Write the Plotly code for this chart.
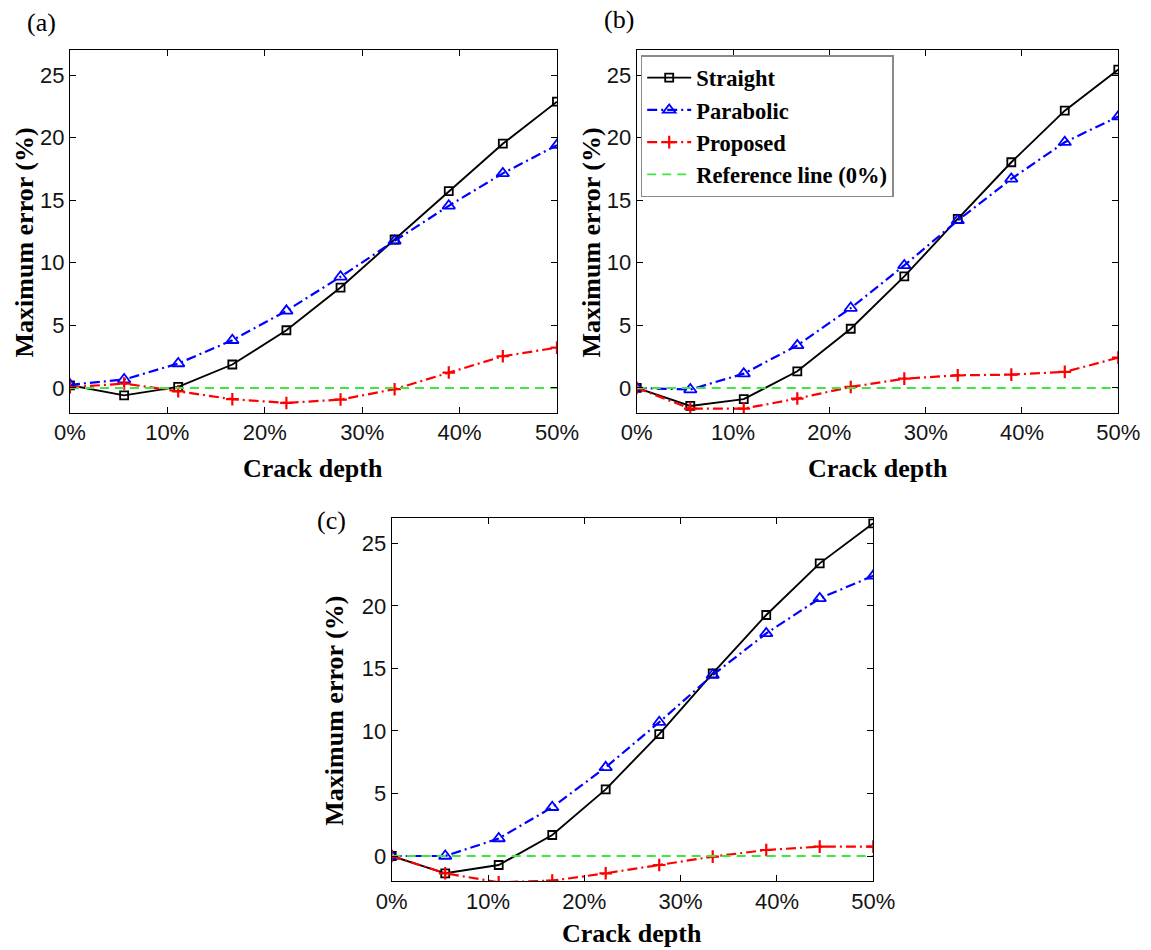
import plotly.graph_objects as go

# Crack depth (% of section height) at which the maximum error was evaluated
depth = [0, 5.56, 11.11, 16.67, 22.22, 27.78, 33.33, 38.89, 44.44, 50.0]
depth_ticks = [0, 10, 20, 30, 40, 50]
error_ticks = [0, 5, 10, 15, 20, 25]

# Case (a)
straight_a = [0.21, -0.59, 0.08, 1.87, 4.61, 8.02, 11.86, 15.72, 19.51, 22.87]
parabolic_a = [0.25, 0.67, 1.95, 3.81, 6.16, 8.88, 11.75, 14.55, 17.14, 19.40]
proposed_a = [0.05, 0.35, -0.27, -0.90, -1.20, -0.93, -0.10, 1.23, 2.53, 3.22]

# Case (b)
straight_b = [0.0, -1.44, -0.90, 1.33, 4.73, 8.91, 13.51, 18.03, 22.15, 25.43]
parabolic_b = [0.0, -0.13, 1.14, 3.40, 6.38, 9.79, 13.38, 16.70, 19.63, 21.68]
proposed_b = [0.0, -1.65, -1.65, -0.85, 0.08, 0.74, 1.01, 1.06, 1.28, 2.42]

# Case (c)
straight_c = [0.0, -1.38, -0.72, 1.68, 5.33, 9.75, 14.60, 19.27, 23.40, 26.60]
parabolic_c = [0.0, 0.0, 1.40, 3.90, 7.09, 10.70, 14.47, 17.80, 20.60, 22.40]
proposed_c = [0.0, -1.38, -2.10, -1.97, -1.38, -0.72, -0.05, 0.48, 0.75, 0.75]

reference_line = [0.0] * len(depth)

panels = [
    ("(a)", straight_a, parabolic_a, proposed_a),
    ("(b)", straight_b, parabolic_b, proposed_b),
    ("(c)", straight_c, parabolic_c, proposed_c),
]

# axis domains in paper units (figure margins are zero)
x_domains = [[0.0608, 0.4839], [0.5532, 0.9716], [0.3403, 0.7587]]
y_domains = [[0.5653, 0.9474], [0.5653, 0.9474], [0.0726, 0.4544]]

SERIF = "Liberation Serif"
SANS = "Liberation Sans"
GREEN = "#3ee63e"

fig = go.Figure()

for i, (label, straight, parabolic, proposed) in enumerate(panels):
    n = "" if i == 0 else str(i + 1)
    xa, ya = "x" + n, "y" + n
    show = (i == 1)
    fig.add_trace(go.Scatter(
        x=depth, y=straight, xaxis=xa, yaxis=ya, name="Straight",
        mode="lines+markers", showlegend=show, legendrank=1,
        line=dict(color="black", width=1.9),
        marker=dict(symbol="square-open", size=8, color="black",
                    line=dict(width=1.8, color="black"))))
    fig.add_trace(go.Scatter(
        x=depth, y=parabolic, xaxis=xa, yaxis=ya, name="Parabolic",
        mode="lines+markers", showlegend=show, legendrank=2,
        line=dict(color="#0000ff", width=2.2, dash="10px,4px,2px,4px"),
        marker=dict(symbol="triangle-up-open", size=11, color="#0000ff",
                    line=dict(width=1.8, color="#0000ff"))))
    fig.add_trace(go.Scatter(
        x=depth, y=proposed, xaxis=xa, yaxis=ya, name="Proposed",
        mode="lines+markers", showlegend=show, legendrank=3,
        line=dict(color="#ff0000", width=2.2, dash="10px,4px,2px,4px"),
        marker=dict(symbol="cross-thin", size=9, color="#ff0000",
                    line=dict(width=2.2, color="#ff0000"))))
    fig.add_trace(go.Scatter(
        x=depth, y=reference_line, xaxis=xa, yaxis=ya,
        name="Reference line (0%)", mode="lines", showlegend=show,
        legendrank=4, line=dict(color=GREEN, width=1.9, dash="9px,6px")))

    axis_common = dict(showline=True, linecolor="black", linewidth=1.2,
                       mirror="ticks", ticks="inside", ticklen=6,
                       tickwidth=1, tickcolor="black", showgrid=False,
                       zeroline=False, automargin=False,
                       tickfont=dict(family=SANS, size=22, color="#141414"))
    fig.layout["xaxis" + n] = dict(
        domain=x_domains[i], anchor=ya, range=[0, 50],
        tickvals=depth_ticks, ticktext=[f"{t}%" for t in depth_ticks],
        **axis_common)
    fig.layout["yaxis" + n] = dict(
        domain=y_domains[i], anchor=xa, range=[-2, 27],
        tickvals=error_ticks, **axis_common)

# panel letters and axis titles
title_font = dict(family=SERIF, size=26, color="black", weight="bold")
letter_pos = [(41, 23), (619, 19), (331, 520)]
ytitle_x = [24, 591, 335]
xtitle_gap = [56, 56, 52]
for i, (label, *_rest) in enumerate(panels):
    x0, x1 = x_domains[i]
    y0, y1 = y_domains[i]
    lx, ly = letter_pos[i]
    fig.add_annotation(text=label, xref="paper", yref="paper",
                       x=lx / 1151, y=1 - ly / 950, showarrow=False,
                       xanchor="center", yanchor="middle",
                       font=dict(family=SERIF, size=26, color="black"))
    bottom_px = (1 - y0) * 950
    center_px = ((1 - y1) * 950 + bottom_px) / 2
    fig.add_annotation(text="Crack depth", xref="paper", yref="paper",
                       x=(x0 + x1) / 2,
                       y=1 - (bottom_px + xtitle_gap[i]) / 950,
                       showarrow=False, xanchor="center", yanchor="middle",
                       font=title_font)
    fig.add_annotation(text="Maximum error (%)", xref="paper", yref="paper",
                       x=ytitle_x[i] / 1151, y=1 - (center_px + 11) / 950,
                       textangle=-90, showarrow=False,
                       xanchor="center", yanchor="middle", font=title_font)

fig.update_layout(
    width=1151, height=950,
    margin=dict(l=0, r=0, t=0, b=0, autoexpand=False),
    paper_bgcolor="white", plot_bgcolor="white",
    legend=dict(x=640.7 / 1151, y=1 - 55 / 950, xanchor="left",
                yanchor="top", bgcolor="white", bordercolor="#8a8a8a",
                borderwidth=1.5, tracegroupgap=0, itemwidth=44,
                font=dict(family=SERIF, size=22.5, color="black",
                          weight="bold")),
)

fig.write_html("out.html")
